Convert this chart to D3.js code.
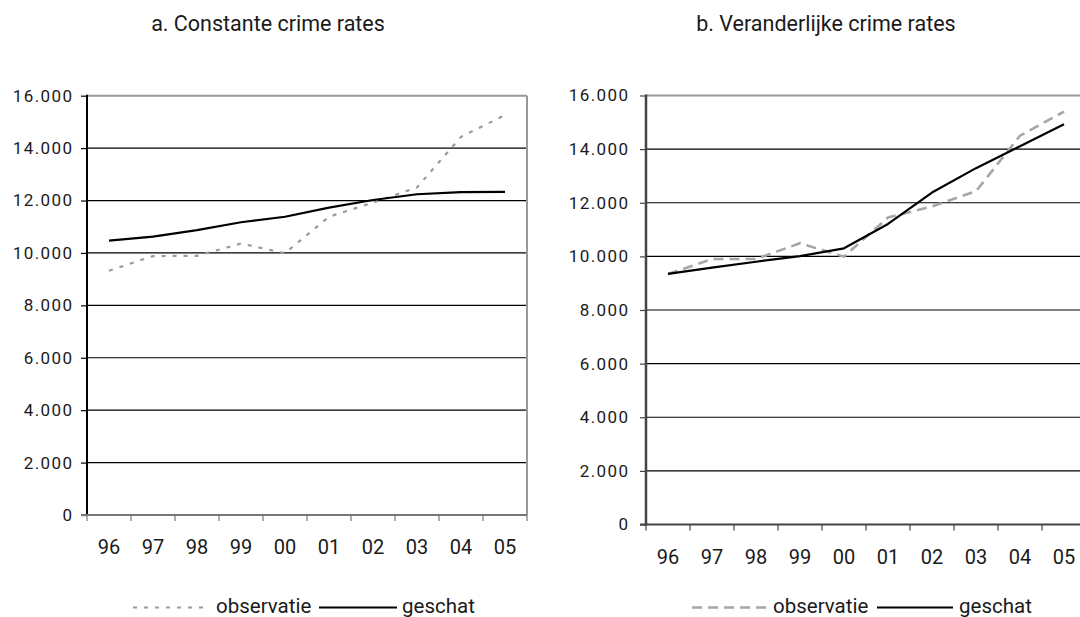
<!DOCTYPE html>
<html>
<head>
<meta charset="utf-8">
<script src="https://cdn.jsdelivr.net/npm/d3@7/dist/d3.min.js"></script>
<style>
  html, body { margin: 0; padding: 0; background: #fff; }
  svg { display: block; font-family: Roboto, "Liberation Sans", sans-serif; }
</style>
</head>
<body>
<svg id="chart" width="1080" height="617"></svg>
<script>
// ---- data ----
const years = ["96", "97", "98", "99", "00", "01", "02", "03", "04", "05"];
const yTicks = [0, 2000, 4000, 6000, 8000, 10000, 12000, 14000, 16000];
const titles = ["a. Constante crime rates", "b. Veranderlijke crime rates"];
const legendLabels = ["observatie", "geschat"];
// panel a
const obsA = [9320, 9880, 9890, 10360, 9990, 11380, 11920, 12500, 14430, 15260];
const estA = [10470, 10620, 10870, 11170, 11380, 11730, 12020, 12240, 12320, 12330];
// panel b
const obsB = [9340, 9900, 9900, 10490, 9990, 11450, 11860, 12430, 14500, 15400];
const estB = [9350, 9580, 9800, 10010, 10300, 11210, 12380, 13290, 14110, 14930];

const nl = d3.formatLocale({decimal: ",", thousands: ".", grouping: [3], currency: ["", ""]});
const fmt = nl.format(",.0f");

const svg = d3.select("#chart");

const panels = [
  {
    title: titles[0], titleX: 268, obs: obsA, est: estA,
    x0: 87, x1: 527, yTop: 95.7, yBot: 515,
    yAxisColor: "#000", xAxisColor: "#777", yAxisW: 2, xAxisW: 2,
    obsDash: "4,7", obsW: 2.2, obsColor: "#9a9a9a",
    xLabelY: 554, labelEnd: 72,
    legend: {dash0: 133, dash1: 205, text1: 216, line0: 319, line1: 397, text2: 402, y: 607.5, base: 613}
  },
  {
    title: titles[1], titleX: 826, obs: obsB, est: estB,
    x0: 646, x1: 1086, yTop: 95.5, yBot: 524.5,
    yAxisColor: "#444", xAxisColor: "#444", yAxisW: 2.5, xAxisW: 2,
    obsDash: "10,6", obsW: 2.6, obsColor: "#a6a6a6",
    xLabelY: 564, labelEnd: 628,
    legend: {dash0: 692, dash1: 767, text1: 773, line0: 877, line1: 953, text2: 959, y: 607.5, base: 613}
  }
];

panels.forEach(p => {
  const g = svg.append("g");
  const x = d3.scaleBand().domain(years).range([p.x0, p.x1]).padding(0);
  const y = d3.scaleLinear().domain([0, 16000]).range([p.yBot, p.yTop]);

  // title
  g.append("text").attr("x", p.titleX).attr("y", 31)
    .attr("text-anchor", "middle").attr("font-size", 21.5).attr("fill", "#1a1a1a")
    .text(p.title);

  // gridlines
  g.selectAll(".grid").data(yTicks.filter(t => t > 0 && t < 16000)).join("line")
    .attr("x1", p.x0).attr("x2", p.x1)
    .attr("y1", d => y(d)).attr("y2", d => y(d))
    .attr("stroke", "#000").attr("stroke-width", 1.2);

  // plot frame top & right (gray)
  g.append("line").attr("x1", p.x0).attr("x2", p.x1)
    .attr("y1", y(16000)).attr("y2", y(16000))
    .attr("stroke", "#999").attr("stroke-width", 2);
  g.append("line").attr("x1", p.x1).attr("x2", p.x1)
    .attr("y1", y(16000)).attr("y2", y(0))
    .attr("stroke", "#999").attr("stroke-width", 2);

  // y axis
  const yAxis = d3.axisLeft(y).tickValues(yTicks).tickFormat(fmt).tickSize(6).tickPadding(9);
  const ya = g.append("g").attr("transform", `translate(${p.x0},0)`).call(yAxis);
  ya.select(".domain").remove();
  ya.selectAll(".tick line").attr("stroke", p.yAxisColor).attr("stroke-width", 1.2);
  ya.selectAll(".tick text").attr("font-size", 17).attr("fill", "#1a1a1a")
    .attr("letter-spacing", "1.4px").attr("x", p.labelEnd - p.x0 + 1.4)
    .attr("font-family", "Roboto, sans-serif");
  g.append("line").attr("x1", p.x0).attr("x2", p.x0)
    .attr("y1", y(16000) - 1).attr("y2", y(0) + 1)
    .attr("stroke", p.yAxisColor).attr("stroke-width", p.yAxisW);

  // x axis
  g.append("line").attr("x1", p.x0 - 6).attr("x2", p.x1)
    .attr("y1", y(0)).attr("y2", y(0))
    .attr("stroke", p.xAxisColor).attr("stroke-width", p.xAxisW);
  const tickPos = years.map(d => x(d)).concat([p.x1]);
  g.selectAll(".xt").data(tickPos).join("line")
    .attr("x1", d => d).attr("x2", d => d)
    .attr("y1", y(0)).attr("y2", y(0) + 6)
    .attr("stroke", p.xAxisColor).attr("stroke-width", 1.2);
  const xAxis = d3.axisBottom(x).tickSize(0).tickPadding(0);
  const xa = g.append("g").attr("transform", `translate(0,0)`).call(xAxis);
  xa.select(".domain").remove();
  xa.selectAll(".tick text").attr("y", p.xLabelY).attr("dy", 0)
    .attr("font-size", 20).attr("fill", "#1a1a1a").attr("font-family", "Roboto, sans-serif");

  // lines
  const line = d3.line().x((d, i) => x(years[i]) + x.bandwidth() / 2).y(d => y(d));
  g.append("path").datum(p.obs).attr("d", line)
    .attr("fill", "none").attr("stroke", p.obsColor).attr("stroke-width", p.obsW)
    .attr("stroke-dasharray", p.obsDash);
  g.append("path").datum(p.est).attr("d", line)
    .attr("fill", "none").attr("stroke", "#000").attr("stroke-width", 2.2)
    .attr("stroke-linejoin", "round");

  // legend
  const L = p.legend;
  g.append("line").attr("x1", L.dash0).attr("x2", L.dash1).attr("y1", L.y).attr("y2", L.y)
    .attr("stroke", p.obsColor).attr("stroke-width", p.obsW).attr("stroke-dasharray", p.obsDash);
  g.append("text").attr("x", L.text1).attr("y", L.base).attr("font-size", 20.5)
    .attr("fill", "#1a1a1a").text(legendLabels[0]);
  g.append("line").attr("x1", L.line0).attr("x2", L.line1).attr("y1", L.y).attr("y2", L.y)
    .attr("stroke", "#000").attr("stroke-width", 2);
  g.append("text").attr("x", L.text2).attr("y", L.base).attr("font-size", 20.5)
    .attr("fill", "#1a1a1a").text(legendLabels[1]);
});
</script>
</body>
</html>
